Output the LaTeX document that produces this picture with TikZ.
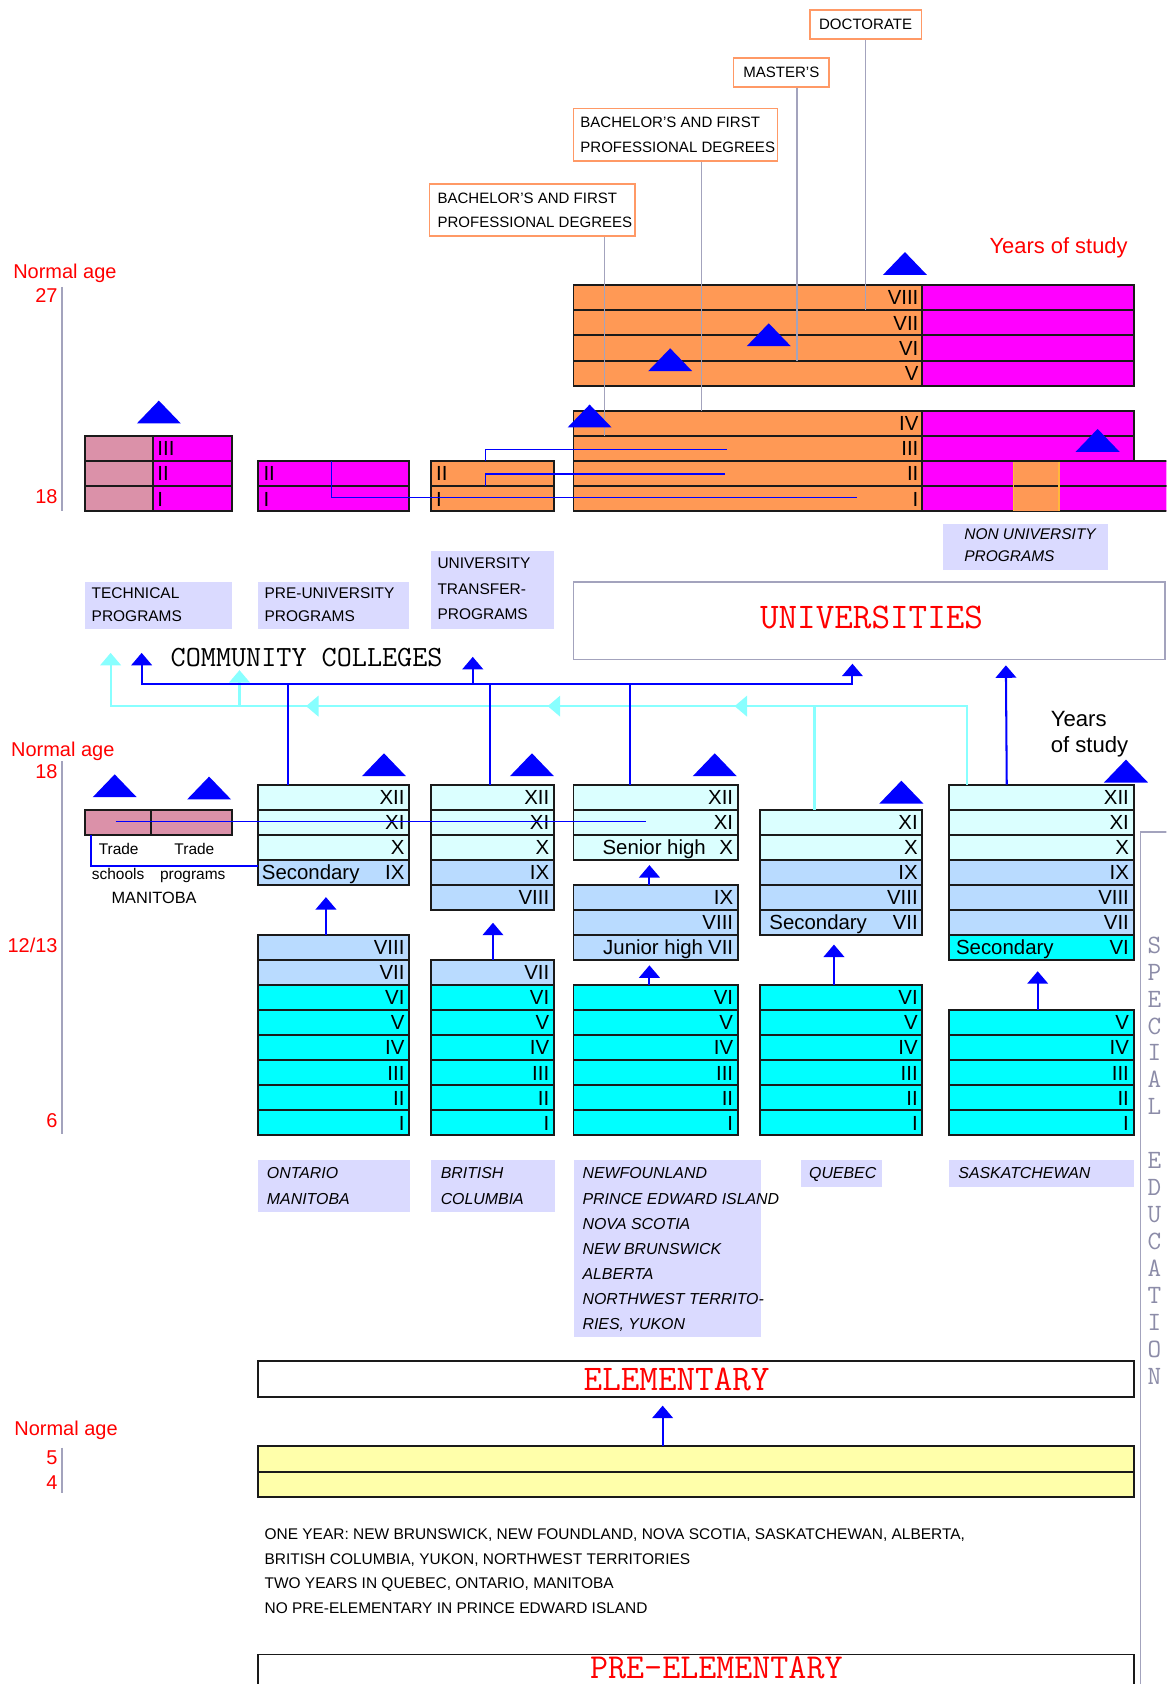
\documentclass[tikz,border=0pt]{standalone}
\usepackage{fontspec}
\setmainfont{Liberation Sans}
\usetikzlibrary{arrows.meta,calc,fit,decorations.markings}
\definecolor{orF}{HTML}{FF9955}
\definecolor{magF}{HTML}{FF00FF}
\definecolor{pnkF}{HTML}{DB91A9}
\definecolor{lcy}{HTML}{DBFFFF}
\definecolor{lbl}{HTML}{B9DBFF}
\definecolor{cyn}{HTML}{00FFFF}
\definecolor{lav}{HTML}{DADAFF}
\definecolor{yel}{HTML}{FFFFAA}
\definecolor{obrd}{HTML}{FF9966}
\definecolor{gln}{HTML}{A3A3BD}
\definecolor{lcl}{HTML}{88FFFF}
\definecolor{spg}{HTML}{8C8CA8}
\definecolor{rowline}{HTML}{1A1A1A}
\tikzset{
 rowbox/.style={draw=rowline, line width=0.9pt, inner sep=0pt, outer sep=0pt},
 numtxt/.style={font=\fontsize{9.5}{11}\selectfont, inner sep=0pt, text height=6.8pt, text depth=0pt},
 labbox/.style={fill=lav, inner sep=0pt, outer sep=0pt},
 labtxt/.style={font=\fontsize{7.2}{11.65}\selectfont, align=left, inner sep=0pt},
 ttltxt/.style={font=\fontsize{7.0}{11.5}\selectfont, align=left, inner sep=0pt},
 provtxt/.style={align=left, inner sep=0pt, font=\fontsize{7.4}{11.7}\selectfont\itshape},
 ttlbox/.style={draw=obrd, line width=0.8pt, fill=white, inner sep=0pt},
 redtxt/.style={text=red, font=\fontsize{9.3}{11}\selectfont, inner sep=0pt, text height=6.7pt, text depth=0pt},
 bigred/.style={text=red, font=\ttfamily\fontsize{16.8}{18}\selectfont, inner sep=0pt},
 trtxt/.style={font=\fontsize{7.2}{9}\selectfont, inner sep=0pt, text height=5.2pt, text depth=0pt},
 spec/.style={text=spg, font=\ttfamily\fontsize{12.3}{14}\selectfont, inner sep=0pt, text height=7.5pt, text depth=0pt},
 conn/.style={color=blue, line width=0.95pt},
 thinconn/.style={color=blue, line width=0.65pt},
 lconn/.style={color=lcl, line width=0.95pt},
 gconn/.style={draw=gln, line width=0.75pt},
 axisln/.style={draw=gln, line width=0.75pt},
 tipA/.style={-{Triangle[width=9.6pt,length=5.8pt]}},
 tipAB/.style={{Triangle[width=9.6pt,length=5.8pt]}-{Triangle[width=9.6pt,length=5.8pt]}},
}
\newcommand\srow[6]{%
 \node[rowbox, fill=#5, fit={(#2,{730.5+23.333*#4})(#3,{753.833+23.333*#4})}] (#1) {};
 \node[numtxt, anchor=east] (#1-n) at ([xshift=-2pt]#1.east) {#6};
}
\newcommand\bmark[2]{\fill[blue] ({#1-20.5},{#2}) -- ({#1+20.5},{#2}) -- ({#1},{#2-21.3}) -- cycle;}
\begin{document}
\begin{tikzpicture}[x=0.5pt,y=-0.5pt]
\useasboundingbox (0,0) rectangle (1086,1568);
\clip (0,0) rectangle (1086,1568);
\fill[white] (0,0) rectangle (1086,1568);

% ---------- title boxes ----------
\node[ttlbox, fit={(754,9)(858,36)}] (doc) {};
\node[ttltxt] (doct) at (doc.center) {DOCTORATE};
\node[ttlbox, fit={(683,54)(772,81)}] (mas) {};
\node[ttltxt] (mast) at (mas.center) {MASTER'S};
\node[ttlbox, fit={(534,101)(724,150)}] (ba1) {};
\node[ttltxt, anchor=north west] (ba1t) at (540,109) {BACHELOR'S AND FIRST\\PROFESSIONAL DEGREES};
\node[ttlbox, fit={(400,171)(591,220)}] (ba2) {};
\node[ttltxt, anchor=north west] (ba2t) at (407,179) {BACHELOR'S AND FIRST\\PROFESSIONAL DEGREES};

% ---------- university blocks ----------
\foreach \k/\n in {0/VIII,1/VII,2/VI,3/V}{
 \node[rowbox, fill=orF, fit={(534,{265.4+23.45*\k})(858.5,{288.85+23.45*\k})}] (uu\k) {};
 \node[rowbox, fill=magF, fit={(858.5,{265.4+23.45*\k})(1055.5,{288.85+23.45*\k})}] (um\k) {};
 \node[numtxt, anchor=east] (uun\k) at ([xshift=-1.5pt]uu\k.east) {\n};
}
\foreach \k/\n in {0/IV,1/III,2/II,3/I}{
 \node[rowbox, fill=orF, fit={(534,{382.4+23.45*\k})(858.5,{405.85+23.45*\k})}] (ul\k) {};
 \node[numtxt, anchor=east] (uln\k) at ([xshift=-1.5pt]ul\k.east) {\n};
}
\foreach \k in {0,1}{\node[rowbox, fill=magF, fit={(858.5,{382.4+23.45*\k})(1055.5,{405.85+23.45*\k})}] (lm\k) {};}
\foreach \k in {2,3}{\node[rowbox, fill=magF, fit={(858.5,{382.4+23.45*\k})(1098,{405.85+23.45*\k})}] (lm\k) {};}
\node[fill=orF, inner sep=0pt, outer sep=0pt, fit={(943.6,430)(986,475.5)}] (inset) {};
\draw[draw=rowline, line width=0.9pt] (inset.west) -- (inset.east);
\draw[draw=orF!70!yellow, line width=0.6pt] (inset.north west) -- (inset.south west) (inset.north east) -- (inset.south east);

% technical / pre-university / transfer
\foreach \k/\n in {1/III,2/II,3/I}{
 \node[rowbox, fill=pnkF, fit={(79.5,{382.4+23.45*\k})(142.2,{405.85+23.45*\k})}] (tl\k) {};
 \node[rowbox, fill=magF, fit={(142.2,{382.4+23.45*\k})(216.3,{405.85+23.45*\k})}] (tm\k) {};
 \node[numtxt, anchor=west] (tmn\k) at ([xshift=2pt]tm\k.west) {\n};
}
\foreach \k/\n in {2/II,3/I}{
 \node[rowbox, fill=magF, fit={(240.6,{382.4+23.45*\k})(381,{405.85+23.45*\k})}] (pu\k) {};
 \node[numtxt, anchor=west] (pun\k) at ([xshift=2.2pt]pu\k.west) {\n};
 \node[rowbox, fill=orF, fit={(401.7,{382.4+23.45*\k})(515.8,{405.85+23.45*\k})}] (tr\k) {};
 \node[numtxt, anchor=west] (trn\k) at ([xshift=2pt]tr\k.west) {\n};
}

% grey lines from degree boxes
\coordinate (m1) at ($(mas.south)+(14.5,0)$);
\coordinate (b1) at ($(ba1.south)+(24,0)$);
\coordinate (b2) at ($(ba2.south)+(67.5,0)$);
\draw[gconn] (doc.south) -- (doc.south |- uu0.south);
\draw[gconn] (m1) -- (m1 |- uu2.south);
\draw[gconn] (b1) -- (b1 |- ul0.north);
\draw[gconn] (b2) -- (b2 |- ul0.south);

% blue links in the upper blocks
\draw[thinconn] ($(pu2.north west)+(68,0)$) |- ($(ul3.west)+(264,-1.3)$);
\draw[thinconn] ($(tr2.north west)+(50.5,0)$) |- ($(ul1.west)+(142.5,0.9)$);
\draw[thinconn] ($(tr3.north west)+(50.5,0)$) |- ($(ul2.west)+(141.3,0.3)$);

% labels
\node[labbox, fit={(79.5,541.7)(216.3,585.8)}] (techl) {};
\node[labtxt, anchor=north west, font=\fontsize{7.2}{10.85}\selectfont] (techt) at (85,546.8) {TECHNICAL\\PROGRAMS};
\node[labbox, fit={(240.6,541.7)(381,585.8)}] (prel) {};
\node[labtxt, anchor=north west, font=\fontsize{7.2}{10.85}\selectfont] (pret0) at (246,546.8) {PRE-UNIVERSITY\\PROGRAMS};
\node[labbox, fit={(401.7,512.9)(515.8,585.8)}] (trl) {};
\node[labtxt, anchor=north west, font=\fontsize{7.2}{12}\selectfont] (trt) at (407,518.8) {UNIVERSITY\\TRANSFER-\\PROGRAMS};
\node[labbox, fit={(877.6,488)(1031.4,531)}] (nul) {};
\node[provtxt, anchor=north west, font=\fontsize{7.2}{10.5}\selectfont\itshape] (nut) at (897.5,491.5) {NON UNIVERSITY\\PROGRAMS};

\node[draw=gln, line width=0.8pt, fill=white, inner sep=0pt, fit={(534,542)(1085,614)}] (uni) {};
\node[bigred] (unit) at (811.5,575) {UNIVERSITIES};
\node[font=\ttfamily\fontsize{13.65}{15}\selectfont, inner sep=0pt] (cc) at (285.5,612.5) {COMMUNITY COLLEGES};

% ---------- secondary / elementary blocks ----------
\foreach \k/\f/\n in {0/lcy/XII,1/lcy/XI,2/lcy/X,3/lbl/IX,6/lbl/VIII,7/lbl/VII,8/cyn/VI,9/cyn/V,10/cyn/IV,11/cyn/III,12/cyn/II,13/cyn/I}
 {\srow{ont\k}{240.5}{381}{\k}{\f}{\n}}
\foreach \k/\f/\n in {0/lcy/XII,1/lcy/XI,2/lcy/X,3/lbl/IX,4/lbl/VIII,7/lbl/VII,8/cyn/VI,9/cyn/V,10/cyn/IV,11/cyn/III,12/cyn/II,13/cyn/I}
 {\srow{bc\k}{401.7}{515.8}{\k}{\f}{\n}}
\foreach \k/\f/\n in {0/lcy/XII,1/lcy/XI,2/lcy/X,4/lbl/IX,5/lbl/VIII,6/lbl/VII,8/cyn/VI,9/cyn/V,10/cyn/IV,11/cyn/III,12/cyn/II,13/cyn/I}
 {\srow{nf\k}{534}{687}{\k}{\f}{\n}}
\foreach \k/\f/\n in {1/lcy/XI,2/lcy/X,3/lbl/IX,4/lbl/VIII,5/lbl/VII,8/cyn/VI,9/cyn/V,10/cyn/IV,11/cyn/III,12/cyn/II,13/cyn/I}
 {\srow{qb\k}{708}{858.9}{\k}{\f}{\n}}
\foreach \k/\f/\n in {0/lcy/XII,1/lcy/XI,2/lcy/X,3/lbl/IX,4/lbl/VIII,5/lbl/VII,6/cyn/VI,9/cyn/V,10/cyn/IV,11/cyn/III,12/cyn/II,13/cyn/I}
 {\srow{sk\k}{883.8}{1055.5}{\k}{\f}{\n}}
\node[numtxt, anchor=west] (ontsec) at ([xshift=1.5pt]ont3.west) {Secondary};
\node[numtxt, anchor=east] (nfsen) at ([xshift=-14.7pt]nf2.east) {Senior high};
\node[numtxt, anchor=east] (nfjun) at ([xshift=-16pt]nf6.east) {Junior high};
\node[numtxt, anchor=west] (qbsec) at ([xshift=4pt]qb5.west) {Secondary};
\node[numtxt, anchor=west] (sksec) at ([xshift=3pt]sk6.west) {Secondary};

% Manitoba trade block
\node[rowbox, fill=pnkF, fit={(79.5,753.8)(140.8,777.5)}] (trs) {};
\node[rowbox, fill=pnkF, fit={(140.8,753.8)(216.3,777.5)}] (trp) {};
\node[trtxt] (trA) at (110.5,790) {Trade};
\node[trtxt] (trB) at (181,790) {Trade};
\node[trtxt] (trC) at (110,814) {schools};
\node[trtxt] (trD) at (179.5,814) {programs};
\node[trtxt, font=\fontsize{7.6}{9}\selectfont] (mani) at (143.5,836) {MANITOBA};

% ---------- connector network ----------
\coordinate (busA) at (0,637.3);
\coordinate (busB) at (0,657.5);
\coordinate (ccL) at (131.9,607.9);
\coordinate (ccR) at (440.2,611.6);
\coordinate (ccLL) at (103,607.9);
\coordinate (ccM) at (223,624);
\coordinate (uA) at ($(uni.south west)+(260.5,3.2)$);
\coordinate (uB) at ($(uni.south west)+(403.4,4.7)$);
\coordinate (w1) at ($(sk0.north west)+(16.5,0)$);
\coordinate (w2) at ($(qb1.north west)+(50.4,0)$);
\coordinate (v1) at ($(ont0.north west)+(27.5,0)$);
\coordinate (v2) at ($(bc0.north west)+(54.2,0)$);
\coordinate (v3) at ($(nf0.north west)+(52.7,0)$);
\coordinate (v4) at ($(sk0.north west)+(53.6,0)$);

\draw[lconn, tipA, postaction={decorate}, decoration={markings,
  mark=at position 144.65pt with {\arrow{Triangle[width=9.6pt,length=5.8pt]}},
  mark=at position 231.65pt with {\arrow{Triangle[width=9.6pt,length=5.8pt]}},
  mark=at position 344.15pt with {\arrow{Triangle[width=9.6pt,length=5.8pt]}}}]
  (w1) -- (w1 |- busB) -- (ccLL |- busB) -- (ccLL);
\draw[lconn] (w2) -- (w2 |- busB);
\draw[lconn, tipA] (ccM |- busB) -- (ccM);

\draw[conn, tipAB] (ccL) -- (ccL |- busA) -- (uA |- busA) -- (uA);
\draw[conn, tipA] (ccR |- busA) -- (ccR);
\draw[conn] (v1) -- (v1 |- busA);
\draw[conn] (v2) -- (v2 |- busA);
\draw[conn] (v3) -- (v3 |- busA);
\draw[conn, tipA] (v4) -- (uB);

% trade links
\coordinate (t1) at ($(trs.west)+(28.2,-1)$);
\coordinate (t2) at ($(nf1.west)+(67.5,0)$);
\coordinate (t3) at ($(trs.south west)+(5.3,0)$);
\coordinate (t4) at ($(ont3.north west)+(0,5.8)$);
\draw[thinconn] (t1) -- (t1 -| t2);
\draw[thinconn] (t3) |- (t4);

% elementary to secondary arrows
\coordinate (e1) at ($(ont6.north west)+(63,0)$);
\coordinate (e2) at ($(bc7.north west)+(57.3,0)$);
\coordinate (e3) at ($(nf4.north west)+(70.7,0)$);
\coordinate (e4) at ($(nf8.north west)+(70.7,0)$);
\coordinate (e5) at ($(qb8.north west)+(68.5,0)$);
\coordinate (e6) at ($(sk9.north west)+(82.4,0)$);
\draw[conn, tipA] (e1) -- ($(e1 |- ont3.south)+(0,11.5)$);
\draw[conn, tipA] (e2) -- ($(e2 |- bc4.south)+(0,12)$);
\draw[conn, tipA] (e3) -- ($(e3 |- nf2.south)+(0,5)$);
\draw[conn, tipA] (e4) -- ($(e4 |- nf6.south)+(0,5)$);
\draw[conn, tipA] (e5) -- ($(e5 |- qb5.south)+(0,9)$);
\draw[conn, tipA] (e6) -- ($(e6 |- sk6.south)+(0,10.5)$);

% ---------- province labels ----------
\node[labbox, fit={(240.2,1080.4)(381.4,1128.5)}] (pl1) {};
\node[provtxt, anchor=north west] (pt1) at (248.2,1087) {ONTARIO\\MANITOBA};
\node[labbox, fit={(401.4,1080.4)(516.3,1128.5)}] (pl2) {};
\node[provtxt, anchor=north west] (pt2) at (410,1087) {BRITISH\\COLUMBIA};
\node[labbox, fit={(534,1080.4)(709,1245)}] (pl3) {};
\node[provtxt, anchor=north west] (pt3) at (542,1087) {NEWFOUNLAND\\PRINCE EDWARD ISLAND\\NOVA SCOTIA\\NEW BRUNSWICK\\ALBERTA\\NORTHWEST TERRITO-\\RIES, YUKON};
\node[labbox, fit={(745.7,1080.4)(821.5,1105)}] (pl4) {};
\node[provtxt, anchor=north west] (pt4) at (753,1087) {QUEBEC};
\node[labbox, fit={(883.5,1080.4)(1055.6,1105)}] (pl5) {};
\node[provtxt, anchor=north west] (pt5) at (892,1087) {SASKATCHEWAN};

% ---------- elementary / pre-elementary ----------
\node[rowbox, fill=white, fit={(240.6,1267.6)(1055.5,1300.8)}] (elem) {};
\node[bigred] (elemt) at (630,1284.2) {ELEMENTARY};
\node[rowbox, fill=yel, fit={(240.6,1346.8)(1055.5,1370.6)}] (yel1) {};
\node[rowbox, fill=yel, fit={(240.6,1370.6)(1055.5,1394)}] (yel2) {};
\coordinate (e7) at ($(yel1.north west)+(376.4,0)$);
\draw[conn, tipA] (e7) -- ($(e7 |- elem.south)+(0,8)$);
\node[labtxt, anchor=north west, font=\fontsize{7.2}{11.5}\selectfont] (notes) at (246,1422.8) {ONE YEAR: NEW BRUNSWICK, NEW FOUNDLAND, NOVA SCOTIA, SASKATCHEWAN, ALBERTA,\\BRITISH COLUMBIA, YUKON, NORTHWEST TERRITORIES\\TWO YEARS IN QUEBEC, ONTARIO, MANITOBA\\NO PRE-ELEMENTARY IN PRINCE EDWARD ISLAND};
\node[rowbox, fill=white, fit={(240.6,1540.5)(1055.5,1600)}] (preel) {};
\node[bigred, font=\ttfamily\fontsize{16.3}{18}\selectfont] (preelt) at (667,1552.5) {PRE-ELEMENTARY};

% ---------- special education ----------
\node[draw=gln, line width=0.8pt, inner sep=0pt, fit={(1062,775)(1110,1600)}] (spbox) {};
\foreach \c [count=\i from 0] in {S,P,E,C,I,A,L} \node[spec] (sa\i) at (1075,{880+25.1*\i}) {\c};
\foreach \c [count=\i from 0] in {E,D,U,C,A,T,I,O,N} \node[spec] (sb\i) at (1075,{1080.8+25.1*\i}) {\c};

% ---------- age axes and study labels ----------
\node[redtxt, anchor=west] (na1) at (12,253) {Normal age};
\node[redtxt, anchor=east] (a27) at (54,275) {27};
\node[redtxt, anchor=east] (a18) at (54,462) {18};
\draw[axisln] (58,267) -- (58,476);
\node[redtxt, anchor=west] (na2) at (10,698) {Normal age};
\node[redtxt, anchor=east] (b18) at (54,718) {18};
\node[redtxt, anchor=east] (b12) at (54,880) {12/13};
\node[redtxt, anchor=east] (b6) at (54,1043) {6};
\draw[axisln] (58,709) -- (58,1056);
\node[redtxt, anchor=west] (na3) at (13,1330) {Normal age};
\node[redtxt, anchor=east] (c5) at (54,1357) {5};
\node[redtxt, anchor=east] (c4) at (54,1380) {4};
\draw[axisln] (58,1348) -- (58,1390);
\node[redtxt, anchor=west, font=\fontsize{10.2}{12}\selectfont] (yos) at (921,229.5) {Years of study};
\node[anchor=west, inner sep=0pt, font=\fontsize{10.3}{12}\selectfont, text height=7.3pt, text depth=0pt] (yos2) at (978,669) {Years};
\node[anchor=west, inner sep=0pt, font=\fontsize{10.3}{12}\selectfont, text height=7.3pt, text depth=0pt] (yos3) at (978,693) {of study};

% ---------- blue markers ----------
\bmark{842.6}{256}
\bmark{715.8}{322.3}
\bmark{624}{345.6}
\bmark{549}{398}
\bmark{147.9}{394.3}
\bmark{1022}{420.7}
\bmark{357.5}{722.7}
\bmark{495.3}{722.7}
\bmark{665.5}{722.7}
\bmark{839.3}{748.2}
\bmark{1048.4}{728.6}
\bmark{106.8}{742.3}
\bmark{194.7}{744.4}
\end{tikzpicture}
\end{document}
